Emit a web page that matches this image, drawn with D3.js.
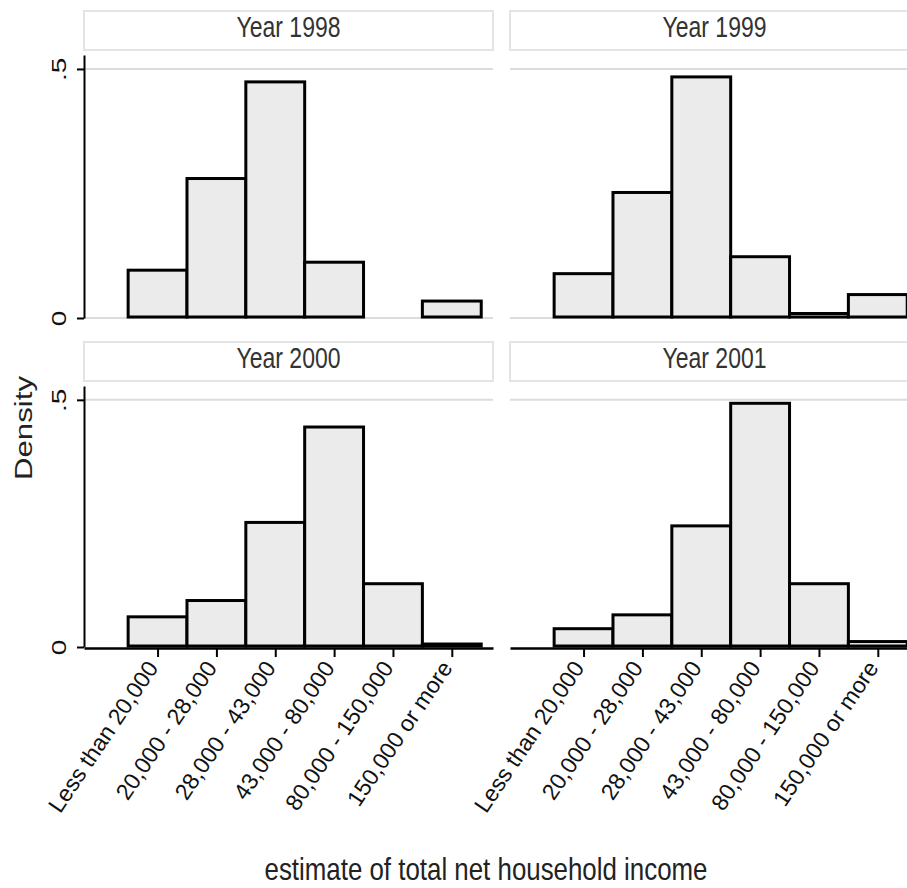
<!DOCTYPE html>
<html>
<head>
<meta charset="utf-8">
<script src="https://cdn.jsdelivr.net/npm/d3@7"></script>
<style>
  body { margin: 0; background: #fff; }
  text { font-family: "Liberation Sans", Arial, sans-serif; }
</style>
</head>
<body>
<div id="chart"></div>
<script>
// Data
const categories = ["Less than 20,000", "20,000 - 28,000", "28,000 - 43,000",
  "43,000 - 80,000", "80,000 - 150,000", "150,000 or more"];
const years = [1998, 1999, 2000, 2001];
const density1998 = [0.094, 0.278, 0.472, 0.110, 0.000, 0.032];
const density1999 = [0.087, 0.250, 0.482, 0.121, 0.007, 0.045];
const density2000 = [0.059, 0.092, 0.250, 0.443, 0.126, 0.004];
const density2001 = [0.035, 0.063, 0.243, 0.491, 0.126, 0.009];
const yTickValues = [0, 0.5];
const yTickLabels = ["0", ".5"];

const densities = [density1998, density1999, density2000, density2001];

// Layout
const width = 907;
const height = 888;
const colX = [84, 510];
const panelW = 409;
const headerTop = [11, 342];
const headerH = 39;
const plotTop = [55, 386];
const plotBottom = [318, 647];
const stretch = 1.3; // text in the picture is stretched vertically

const barFill = "#ebebeb";
const lineColor = "#000";
const gridColor = "#dcdcdc";
const headerStroke = "#e4e4e4";

const svg = d3.select("#chart").append("svg")
  .attr("width", width)
  .attr("height", height);

svg.append("rect").attr("width", width).attr("height", height).attr("fill", "#fff");

const x = d3.scaleLinear().domain([-0.25, 6.7]).range([0, panelW]);

years.forEach((year, k) => {
  const row = Math.floor(k / 2);
  const col = k % 2;
  const g = svg.append("g").attr("transform", `translate(${colX[col]},0)`);
  const y = d3.scaleLinear().domain([0, 0.528]).range([plotBottom[row], plotTop[row]]);

  // header strip
  g.append("rect")
    .attr("x", 0).attr("y", headerTop[row])
    .attr("width", panelW).attr("height", headerH)
    .attr("fill", "#fff").attr("stroke", headerStroke).attr("stroke-width", 2);
  g.append("text")
    .attr("transform", `translate(${panelW / 2},${headerTop[row] + 26}) scale(1,${stretch})`)
    .attr("text-anchor", "middle")
    .attr("font-size", "22px")
    .attr("textLength", 104)
    .attr("lengthAdjust", "spacingAndGlyphs")
    .attr("fill", "#333")
    .text(`Year ${year}`);

  // gridlines
  const gridVals = row === 0 ? yTickValues : [0.5];
  g.selectAll("line.grid").data(gridVals).enter().append("line")
    .attr("class", "grid")
    .attr("x1", 0).attr("x2", panelW)
    .attr("y1", d => y(d)).attr("y2", d => y(d))
    .attr("stroke", gridColor).attr("stroke-width", 2);

  // bars
  const data = densities[k].map((v, i) => ({ cat: i + 1, value: v }));
  g.selectAll("rect.bar").data(data.filter(d => d.value > 0)).enter().append("rect")
    .attr("class", "bar")
    .attr("x", d => x(d.cat - 0.5))
    .attr("width", d => x(d.cat + 0.5) - x(d.cat - 0.5))
    .attr("y", d => y(d.value) - 1)
    .attr("height", d => Math.max(0.5, y(0) - y(d.value)))
    .attr("fill", barFill)
    .attr("stroke", lineColor)
    .attr("stroke-width", 3);

  // y axis on left column
  if (col === 0) {
    const yAxis = g.append("g")
      .call(d3.axisLeft(y).tickValues(yTickValues).tickSize(7).tickSizeOuter(0)
        .tickFormat((d, i) => yTickLabels[i]));
    yAxis.select(".domain").attr("stroke", lineColor).attr("stroke-width", 2);
    yAxis.selectAll(".tick line").attr("stroke", lineColor).attr("stroke-width", 2);
    yAxis.selectAll(".tick text")
      .attr("x", null).attr("dy", null)
      .attr("transform", `translate(-18,0) scale(1,1.4) rotate(-90)`)
      .attr("text-anchor", "middle")
      .attr("font-size", "20px")
      .attr("font-family", "Liberation Sans, Arial, sans-serif")
      .attr("fill", "#111");
  }

  // x axis on bottom row
  if (row === 1) {
    const xAxis = g.append("g")
      .attr("transform", `translate(0,${y(0) + 1})`)
      .call(d3.axisBottom(x).tickValues(d3.range(1, 7)).tickSize(9).tickSizeOuter(0)
        .tickFormat(d => categories[d - 1]));
    xAxis.select(".domain").attr("stroke", lineColor).attr("stroke-width", 2.5);
    xAxis.selectAll(".tick line").attr("stroke", lineColor).attr("stroke-width", 2);
    xAxis.selectAll(".tick text")
      .attr("y", null).attr("dy", null)
      .attr("transform", `translate(1,20) rotate(-56)`)
      .attr("text-anchor", "end")
      .attr("font-size", "23px")
      .attr("font-family", "Liberation Sans, Arial, sans-serif")
      .attr("fill", "#111");
  }
});

// axis titles
svg.append("text")
  .attr("transform", `translate(32,428) scale(1,${stretch}) rotate(-90)`)
  .attr("text-anchor", "middle")
  .attr("font-size", "24px")
  .attr("fill", "#222")
  .text("Density");

svg.append("text")
  .attr("transform", `translate(486,880) scale(1,1.28)`)
  .attr("text-anchor", "middle")
  .attr("font-size", "25px")
  .attr("textLength", 443)
  .attr("lengthAdjust", "spacingAndGlyphs")
  .attr("fill", "#222")
  .text("estimate of total net household income");
</script>
</body>
</html>
